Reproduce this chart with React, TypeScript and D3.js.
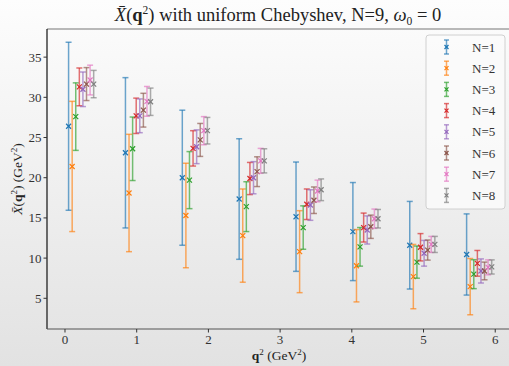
import React from "react";
import * as d3 from "d3";

// Momentum transfer grid (GeV^2) and the per-N horizontal offset
const q2Values = [0, 0.793, 1.586, 2.379, 3.172, 3.965, 4.758, 5.551];
const nLabels = ["N=1", "N=2", "N=3", "N=4", "N=5", "N=6", "N=7", "N=8"];
const nOffset = 0.05;

// Central values and symmetric errors, one row per N
const mean1 = [26.4, 23.1, 20.0, 17.35, 15.15, 13.3, 11.6, 10.45];
const err1 = [10.45, 9.35, 8.4, 7.5, 6.8, 6.1, 5.45, 5.05];
const mean2 = [21.4, 18.1, 15.3, 12.8, 10.8, 9.05, 7.7, 6.45];
const err2 = [8.1, 7.3, 6.5, 5.8, 5.1, 4.5, 4.0, 3.5];
const mean3 = [27.6, 23.6, 19.7, 16.4, 13.8, 11.4, 9.5, 8.0];
const err3 = [4.2, 3.95, 3.55, 3.1, 2.7, 2.4, 2.0, 1.8];
const mean4 = [31.3, 27.7, 23.65, 19.9, 16.7, 13.8, 11.35, 9.35];
const err4 = [2.35, 2.2, 2.2, 2.0, 1.9, 1.8, 1.7, 1.6];
const mean5 = [31.0, 27.7, 23.85, 20.0, 16.6, 13.5, 10.6, 8.4];
const err5 = [2.15, 2.1, 2.1, 2.0, 1.9, 1.75, 1.6, 1.5];
const mean6 = [31.65, 28.4, 24.7, 20.75, 17.2, 13.9, 11.0, 8.4];
const err6 = [2.05, 2.1, 2.05, 1.85, 1.65, 1.45, 1.25, 1.1];
const mean7 = [32.15, 29.5, 25.85, 22.1, 18.35, 14.9, 11.7, 8.85];
const err7 = [1.85, 1.85, 1.75, 1.55, 1.35, 1.2, 1.0, 0.93];
const mean8 = [31.65, 29.45, 25.85, 22.1, 18.5, 14.9, 11.7, 8.9];
const err8 = [1.7, 1.7, 1.65, 1.5, 1.35, 1.15, 1.0, 0.88];

const xTicks = [0, 1, 2, 3, 4, 5, 6];
const yTicks = [5, 10, 15, 20, 25, 30, 35];

const means = [mean1, mean2, mean3, mean4, mean5, mean6, mean7, mean8];
const errs = [err1, err2, err3, err4, err5, err6, err7, err8];
const colors = d3.schemeCategory10;

const W = 509;
const H = 366;
const plot = { left: 47, right: 530, top: 29, bottom: 329 };
const FONT = "'Liberation Serif', 'DejaVu Serif', serif";

function ErrorBar({ x, yLo, yHi, yMid, color, cap = 3, mk = 2.5 }) {
  return (
    <g stroke={color}>
      <g strokeOpacity={0.65} strokeWidth={1.5}>
        <line x1={x} x2={x} y1={yLo} y2={yHi} />
        <line x1={x - cap} x2={x + cap} y1={yLo} y2={yLo} />
        <line x1={x - cap} x2={x + cap} y1={yHi} y2={yHi} />
      </g>
      <g strokeWidth={1.2}>
        <line x1={x - mk} x2={x + mk} y1={yMid - mk} y2={yMid + mk} />
        <line x1={x - mk} x2={x + mk} y1={yMid + mk} y2={yMid - mk} />
      </g>
    </g>
  );
}

export default function App() {
  const x = d3.scaleLinear().domain([-0.251, 6.485]).range([plot.left, plot.right]);
  const y = d3.scaleLinear().domain([1.18, 38.5]).range([plot.bottom, plot.top]);

  const legendX = 426;
  const legendY = 35;
  const rowH = 21.2;

  return (
    <svg
      width={W}
      height={H}
      style={{ position: "absolute", left: 0, top: 0, fontFamily: FONT }}
    >
      <defs>
        <linearGradient id="bg" x1="0" y1="0" x2="0" y2="1">
          <stop offset="0" stopColor="#fdfdfd" />
          <stop offset="1" stopColor="#e2e2e2" />
        </linearGradient>
        <clipPath id="plotClip">
          <rect x={plot.left} y={plot.top} width={plot.right - plot.left} height={plot.bottom - plot.top} />
        </clipPath>
      </defs>
      <rect x={0} y={0} width={W} height={H} fill="url(#bg)" />

      {/* title */}
      <text x={278} y={21} fontSize={18.5} textAnchor="middle" fill="#222">
        <tspan fontStyle="italic">X̄</tspan>
        <tspan>(</tspan>
        <tspan fontWeight="bold">q</tspan>
        <tspan fontSize={11.5} dy={-7}>2</tspan>
        <tspan dy={7}>) with uniform Chebyshev, N=9, </tspan>
        <tspan fontStyle="italic">ω</tspan>
        <tspan fontSize={11.5} dy={4}>0</tspan>
        <tspan dy={-4}> = 0</tspan>
      </text>

      {/* error bars */}
      <g clipPath="url(#plotClip)">
        {means.map((row, k) =>
          row.map((m, i) => {
            const px = x(q2Values[i] + (k + 1) * nOffset);
            return (
              <ErrorBar
                key={`${k}-${i}`}
                x={px}
                yLo={y(m - errs[k][i])}
                yHi={y(m + errs[k][i])}
                yMid={y(m)}
                color={colors[k]}
              />
            );
          })
        )}
      </g>

      {/* spines */}
      <line x1={plot.left} x2={W} y1={plot.top} y2={plot.top} stroke="#777" strokeWidth={1.2} />
      <line x1={plot.left} x2={plot.left} y1={plot.top} y2={plot.bottom} stroke="#111" strokeWidth={1.2} />
      <line x1={plot.left} x2={W} y1={plot.bottom} y2={plot.bottom} stroke="#555" strokeWidth={1.2} />

      {/* x axis */}
      {xTicks.map((t) => (
        <g key={`xt${t}`}>
          <line x1={x(t)} x2={x(t)} y1={plot.bottom} y2={plot.bottom + 3.5} stroke="#333" />
          <text x={x(t)} y={plot.bottom + 15} fontSize={13} textAnchor="middle" fill="#333">
            {t}
          </text>
        </g>
      ))}
      <text x={279} y={360} fontSize={13.5} textAnchor="middle" fill="#222">
        <tspan fontWeight="bold">q</tspan>
        <tspan fontSize={9} dy={-5}>2</tspan>
        <tspan dy={5}> (GeV</tspan>
        <tspan fontSize={9} dy={-5}>2</tspan>
        <tspan dy={5}>)</tspan>
      </text>

      {/* y axis */}
      {yTicks.map((t) => (
        <g key={`yt${t}`}>
          <line x1={plot.left - 3.5} x2={plot.left} y1={y(t)} y2={y(t)} stroke="#333" />
          <text x={plot.left - 5.5} y={y(t) + 4.5} fontSize={13} textAnchor="end" fill="#333">
            {t}
          </text>
        </g>
      ))}
      <text transform="translate(22,179) rotate(-90)" fontSize={13.5} textAnchor="middle" fill="#222">
        <tspan fontStyle="italic">X̄</tspan>
        <tspan>(</tspan>
        <tspan fontWeight="bold">q</tspan>
        <tspan fontSize={9} dy={-5}>2</tspan>
        <tspan dy={5}>) (GeV</tspan>
        <tspan fontSize={9} dy={-5}>2</tspan>
        <tspan dy={5}>)</tspan>
      </text>

      {/* legend */}
      <rect
        x={legendX}
        y={legendY}
        width={79}
        height={174}
        rx={3}
        fill="#fafafa"
        fillOpacity={0.85}
        stroke="#d0d0d0"
      />
      {nLabels.map((lab, k) => {
        const cy = legendY + 12 + k * rowH;
        return (
          <g key={lab}>
            <ErrorBar x={446.5} yLo={cy + 7} yHi={cy - 7} yMid={cy} color={colors[k]} cap={2.5} mk={2} />
            <text x={472} y={cy + 4.5} fontSize={13} fill="#333">
              {lab}
            </text>
          </g>
        );
      })}
    </svg>
  );
}
